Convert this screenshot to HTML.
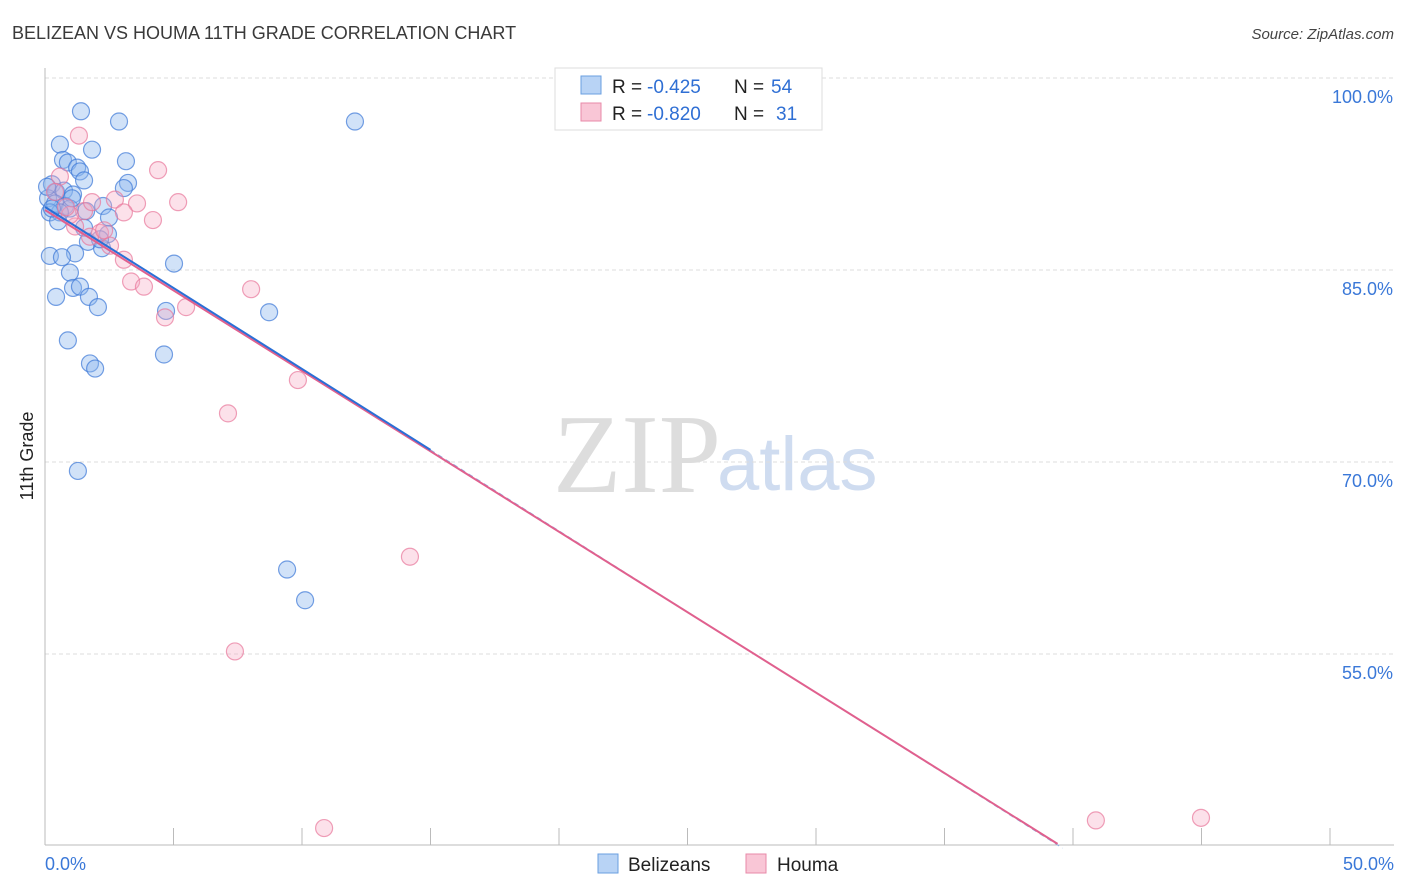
<!DOCTYPE html>
<html><head><meta charset="utf-8">
<style>
body{margin:0;background:#fff;font-family:"Liberation Sans",sans-serif;}
#wrap{position:relative;width:1406px;height:892px;overflow:hidden;}
</style></head>
<body>
<div id="wrap">
<svg id="svg" width="1406" height="892" xmlns="http://www.w3.org/2000/svg">
  <text x="12" y="39" font-size="18" fill="#3a3a3a">BELIZEAN VS HOUMA 11TH GRADE CORRELATION CHART</text>
  <text x="1394" y="39" font-size="15" font-style="italic" fill="#444" text-anchor="end">Source: ZipAtlas.com</text>
  <text x="33" y="456" font-size="18" fill="#222" transform="rotate(-90 33 456)" text-anchor="middle">11th Grade</text>
  <text x="553" y="492" font-size="112" font-family="Liberation Serif,serif" fill="#ddd">ZIP</text>
  <text x="717" y="490" font-size="76" fill="#cfdcf0">atlas</text>
  <g id="grid"></g>
  <g id="axes"></g>
  <g id="pts"></g>
  <g id="lines"></g>
  <g>
    <rect x="555" y="68" width="267" height="62" fill="#fff" stroke="#ddd"/>
    <rect x="581" y="76" width="20" height="18" fill="#b8d3f5" stroke="#6a9fe0"/>
    <rect x="581" y="103" width="20" height="18" fill="#f9c6d6" stroke="#e88aa8"/>
    <text x="612" y="93" font-size="19" fill="#222">R =</text>
    <text x="647" y="93" font-size="19" fill="#2f6fd4">-0.425</text>
    <text x="734" y="93" font-size="19" fill="#222">N =</text>
    <text x="771" y="93" font-size="19" fill="#2f6fd4">54</text>
    <text x="612" y="120" font-size="19" fill="#222">R =</text>
    <text x="647" y="120" font-size="19" fill="#2f6fd4">-0.820</text>
    <text x="734" y="120" font-size="19" fill="#222">N =</text>
    <text x="776" y="120" font-size="19" fill="#2f6fd4">31</text>
  </g>
  <g>
    <rect x="598" y="854" width="20" height="19" fill="#b8d3f5" stroke="#6a9fe0"/>
    <text x="628" y="871" font-size="19" fill="#222">Belizeans</text>
    <rect x="746" y="854" width="20" height="19" fill="#f9c6d6" stroke="#e88aa8"/>
    <text x="777" y="871" font-size="19" fill="#222">Houma</text>
  </g>
</svg>
</div>
<script>
const xTicks=[0,5,10,15,20,25,30,35,40,45,50];
const yTicks=[100,85,70,55];
const yTickLabels=["100.0%","85.0%","70.0%","55.0%"];
const blueX=[1.40,2.88,12.06,0.58,1.83,0.70,0.89,3.15,1.25,1.36,1.52,3.23,3.07,0.27,0.43,0.74,1.09,0.12,0.39,0.78,0.97,2.26,1.60,0.58,2.49,0.19,0.51,1.52,2.45,1.67,2.22,1.17,0.19,0.66,0.97,5.02,0.43,1.09,1.36,1.71,2.06,8.72,4.71,0.89,4.63,1.75,1.95,1.28,9.42,10.12,0.08,0.27,2.14,1.05];
const blueY=[97.4,96.6,96.6,94.8,94.4,93.6,93.4,93.5,93.0,92.7,92.0,91.8,91.4,91.7,91.1,91.2,90.9,90.6,90.2,90.0,89.8,90.0,89.6,89.5,89.1,89.5,88.8,88.3,87.8,87.2,86.7,86.3,86.1,86.0,84.8,85.5,82.9,83.6,83.7,82.9,82.1,81.7,81.8,79.5,78.4,77.7,77.3,69.3,61.6,59.2,91.5,89.8,87.4,90.6];
const pinkX=[1.32,4.40,5.18,0.58,2.72,3.58,4.20,3.07,1.52,1.83,1.17,2.14,2.53,3.07,3.35,3.85,4.67,5.49,8.02,9.84,7.12,14.20,7.39,10.86,40.89,44.98,0.97,1.75,0.39,0.82,2.30];
const pinkY=[95.5,92.8,90.3,92.3,90.5,90.2,88.9,89.5,89.6,90.3,88.4,87.9,86.9,85.8,84.1,83.7,81.3,82.1,83.5,76.4,73.8,62.6,55.2,41.4,42.0,42.2,89.3,87.6,91.1,89.9,88.1];
const blueLine=[89.92,-1.265,0,15,39.6];
const pinkLine=[89.69,-1.257,0,39.4];
const X=v=>45+v*25.7, Y=v=>78+(100-v)*12.8;
const NS="http://www.w3.org/2000/svg";
function mk(tag,attrs,parent){const e=document.createElementNS(NS,tag);for(const k in attrs)e.setAttribute(k,attrs[k]);document.getElementById(parent).appendChild(e);return e;}
yTicks.forEach((t,i)=>{
  const l=mk('line',{x1:45,x2:1394,y1:Y(t),y2:Y(t),stroke:'#ddd','stroke-dasharray':'4 3'},'grid');
  
  
  const tx=mk('text',{x:1393,y:Y(t)+25,'font-size':18,fill:'#3a78d8','text-anchor':'end'},'grid');
  tx.textContent=yTickLabels[i];
  
  
});
const ax=mk('line',{x1:45,x2:45,y1:68,y2:845,stroke:'#bbb'},'axes');


const bx=mk('line',{x1:45,x2:1394,y1:845,y2:845,stroke:'#bbb'},'axes');


xTicks.forEach(t=>{
  const l=mk('line',{x1:X(t),x2:X(t),y1:828,y2:845,stroke:'#bbb'},'axes');
  
  
});
[[0,'0.0%','start',45],[50,'50.0%','end',1394]].forEach(a=>{
  const t=mk('text',{x:a[3],y:870,'font-size':18,fill:'#3a78d8','text-anchor':a[2]},'axes');
  t.textContent=a[1];
  
  
});
blueX.forEach((v,i)=>{
  const c=mk('circle',{cx:X(v),cy:Y(blueY[i]),r:8.5,fill:'rgba(140,182,238,0.4)',stroke:'rgba(60,120,215,0.7)','stroke-width':1.2},'pts');
  
  
});
pinkX.forEach((v,i)=>{
  const c=mk('circle',{cx:X(v),cy:Y(pinkY[i]),r:8.5,fill:'rgba(246,170,195,0.35)',stroke:'rgba(232,120,155,0.7)','stroke-width':1.2},'pts');
  
  
});
const bl=v=>blueLine[0]+blueLine[1]*v, pl=v=>pinkLine[0]+pinkLine[1]*v;
const d=mk('line',{x1:X(blueLine[3]),y1:Y(bl(blueLine[3])),x2:X(blueLine[4]),y2:Y(bl(blueLine[4])),stroke:'#8aaee0','stroke-dasharray':'5 4','stroke-width':1},'lines');


const p=mk('line',{x1:X(pinkLine[2]),y1:Y(pl(pinkLine[2])),x2:X(pinkLine[3]),y2:Y(pl(pinkLine[3])),stroke:'#e0608e','stroke-width':2},'lines');


const b=mk('line',{x1:X(blueLine[2]),y1:Y(bl(blueLine[2])),x2:X(blueLine[3]),y2:Y(bl(blueLine[3])),stroke:'#2a6fd6','stroke-width':2},'lines');


</script>
</body></html>
